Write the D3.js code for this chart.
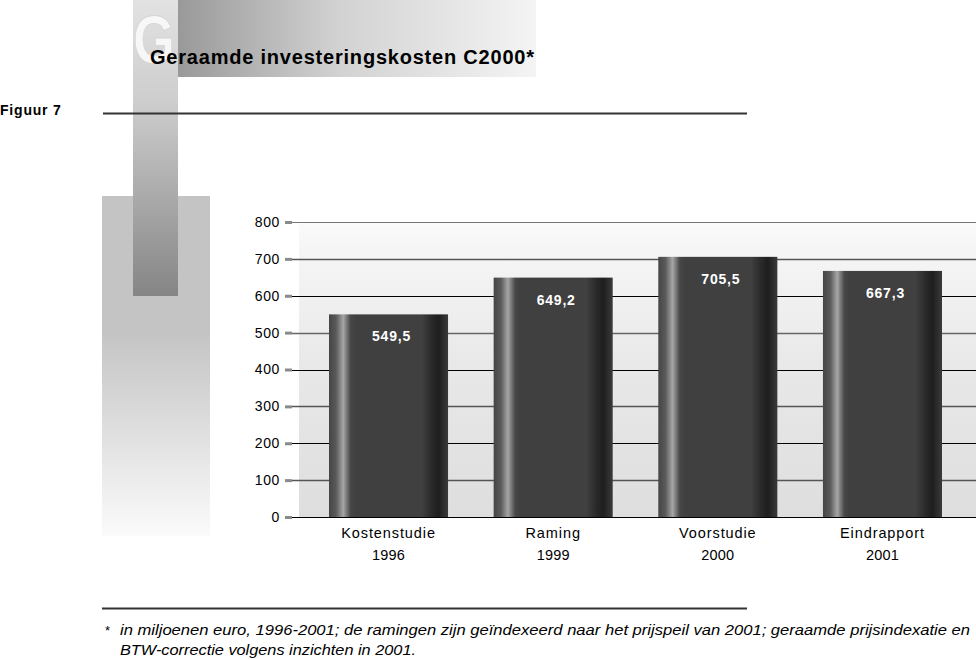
<!DOCTYPE html>
<html><head><meta charset="utf-8">
<script src="https://cdn.jsdelivr.net/npm/d3@7"></script>
<style>body{margin:0;background:#fff}svg{display:block}</style>
</head><body><svg id="c" width="976" height="660"></svg>
<script>
const categories = ["Kostenstudie", "Raming", "Voorstudie", "Eindrapport"];
const years = ["1996", "1999", "2000", "2001"];
const values = [549.5, 649.2, 705.5, 667.3];
const valueLabels = ["549,5", "649,2", "705,5", "667,3"];
const yTicks = [0, 100, 200, 300, 400, 500, 600, 700, 800];
const title = "Geraamde investeringskosten C2000*";
const figLabel = "Figuur 7";
const footLines = ["in miljoenen euro, 1996-2001; de ramingen zijn geïndexeerd naar het prijspeil van 2001; geraamde prijsindexatie en",
                   "BTW-correctie volgens inzichten in 2001."];

const svg = d3.select("#c");
const defs = svg.append("defs");
const font = "'Liberation Sans', Arial, Helvetica, sans-serif";

function lin(id, x1, y1, x2, y2, stops) {
  const g = defs.append("linearGradient").attr("id", id)
    .attr("x1", x1).attr("y1", y1).attr("x2", x2).attr("y2", y2);
  stops.forEach(s => g.append("stop").attr("offset", s[0]).attr("stop-color", s[1]));
}
lin("gBlock", 0, 0, 0, 1, [[0, "#c4c4c4"], [0.4, "#c4c4c4"], [1, "#fbfbfb"]]);
lin("gStrip", 0, 0, 0, 1, [[0, "#e2e2e2"], [0.35, "#cdcdcd"], [1, "#858585"]]);
lin("gBand", 0, 0, 1, 0, [[0, "#999999"], [0.45, "#d2d2d2"], [1, "#f4f4f4"]]);
lin("gPlot", 0, 0, 0, 1, [[0, "#fbfbfb"], [0.08, "#f6f6f6"], [0.5, "#e8e8e8"], [1, "#dedede"]]);
lin("gBar", 0, 0, 1, 0, [[0, "#454545"], [0.06, "#5a5a5a"], [0.12, "#a6a6a6"], [0.18, "#484848"], [0.22, "#404040"],
                          [0.78, "#404040"], [0.86, "#2a2a2a"], [0.92, "#1e1e1e"], [1, "#3a3a3a"]]);

// decorative blocks
svg.append("rect").attr("x", 102).attr("y", 196).attr("width", 108).attr("height", 340).attr("fill", "url(#gBlock)");
svg.append("rect").attr("x", 178).attr("y", 0).attr("width", 358).attr("height", 77).attr("fill", "url(#gBand)");
svg.append("rect").attr("x", 133).attr("y", 0).attr("width", 45).attr("height", 296).attr("fill", "url(#gStrip)");
svg.append("text").attr("x", 133).attr("y", 63).text("G")
  .attr("textLength", 42).attr("lengthAdjust", "spacingAndGlyphs")
  .attr("font-family", font).attr("font-weight", "bold").attr("font-size", 69)
  .attr("fill", "#f7f7f7").attr("stroke", "#d4d4d4").attr("stroke-width", 0.8);

svg.append("text").attr("x", 150).attr("y", 64).text(title)
  .attr("textLength", 384).attr("lengthAdjust", "spacing")
  .attr("font-family", font).attr("font-weight", "bold").attr("font-size", 20).attr("fill", "#000");
svg.append("text").attr("x", 0).attr("y", 115).text(figLabel)
  .attr("font-family", font).attr("font-weight", "bold").attr("font-size", 14).attr("letter-spacing", 0.8).attr("fill", "#000");
svg.append("line").attr("x1", 103).attr("x2", 747).attr("y1", 113.5).attr("y2", 113.5).attr("stroke", "#333").attr("stroke-width", 2);

// plot
const y = d3.scaleLinear().domain([0, 800]).range([517, 222]);
const x = d3.scaleBand().domain(categories).range([306.2, 964.8]).paddingInner(0.277).paddingOuter(0.1385);

svg.append("rect").attr("x", 299).attr("y", y(800)).attr("width", 976 - 299).attr("height", y(0) - y(800)).attr("fill", "url(#gPlot)");

const gridColors = ["#000", "#555", "#000", "#555", "#000", "#666", "#000", "#555", "#777"];
svg.append("g").selectAll("line").data(yTicks).join("line")
  .attr("x1", 292).attr("x2", 976)
  .attr("y1", d => Math.round(y(d)) + 0.5).attr("y2", d => Math.round(y(d)) + 0.5)
  .attr("stroke", (d, i) => gridColors[i]).attr("stroke-width", (d, i) => i % 2 ? 1.6 : 1.2);

const yAxis = svg.append("g").attr("transform", "translate(292,0)")
  .call(d3.axisLeft(y).tickValues(yTicks).tickSize(7).tickPadding(5));
yAxis.select(".domain").remove();
yAxis.selectAll(".tick line").attr("stroke", "#8a8a8a").attr("stroke-width", 3);
yAxis.selectAll(".tick text").attr("font-family", font).attr("font-size", 14).attr("letter-spacing", 0.6).attr("fill", "#000");

svg.append("g").selectAll("rect").data(values).join("rect")
  .attr("x", (d, i) => x(categories[i])).attr("width", x.bandwidth())
  .attr("y", d => y(d)).attr("height", d => y(0) - y(d))
  .attr("fill", "url(#gBar)");

svg.append("g").selectAll("text").data(values).join("text")
  .attr("x", (d, i) => x(categories[i]) + x.bandwidth() / 2 + 3)
  .attr("y", d => y(d) + 27)
  .attr("text-anchor", "middle").text((d, i) => valueLabels[i])
  .attr("font-family", font).attr("font-weight", "bold").attr("font-size", 14).attr("letter-spacing", 0.8).attr("fill", "#fff");

const xl = svg.append("g").selectAll("g").data(categories).join("g")
  .attr("transform", d => `translate(${x(d) + x.bandwidth() / 2},0)`);
xl.append("text").attr("y", 538).attr("text-anchor", "middle").text(d => d)
  .attr("font-family", font).attr("font-size", 14.5).attr("letter-spacing", 0.9).attr("fill", "#000");
xl.append("text").attr("y", 560).attr("text-anchor", "middle").text((d, i) => years[i])
  .attr("font-family", font).attr("font-size", 14.5).attr("letter-spacing", 0.2).attr("fill", "#000");

// footer
svg.append("line").attr("x1", 102).attr("x2", 747).attr("y1", 608.5).attr("y2", 608.5).attr("stroke", "#333").attr("stroke-width", 2);
svg.append("text").attr("x", 105).attr("y", 635).text("*")
  .attr("font-family", font).attr("font-size", 13).attr("fill", "#000");
const footWidths = [850, 296];
svg.append("g").selectAll("text").data(footLines).join("text")
  .attr("x", 120).attr("y", (d, i) => 635 + i * 20).text(d => d)
  .attr("textLength", (d, i) => footWidths[i]).attr("lengthAdjust", "spacingAndGlyphs")
  .attr("font-family", "'Liberation Sans Narrow', " + font).attr("font-style", "italic").attr("font-size", 14.5).attr("fill", "#000");
</script></body></html>
